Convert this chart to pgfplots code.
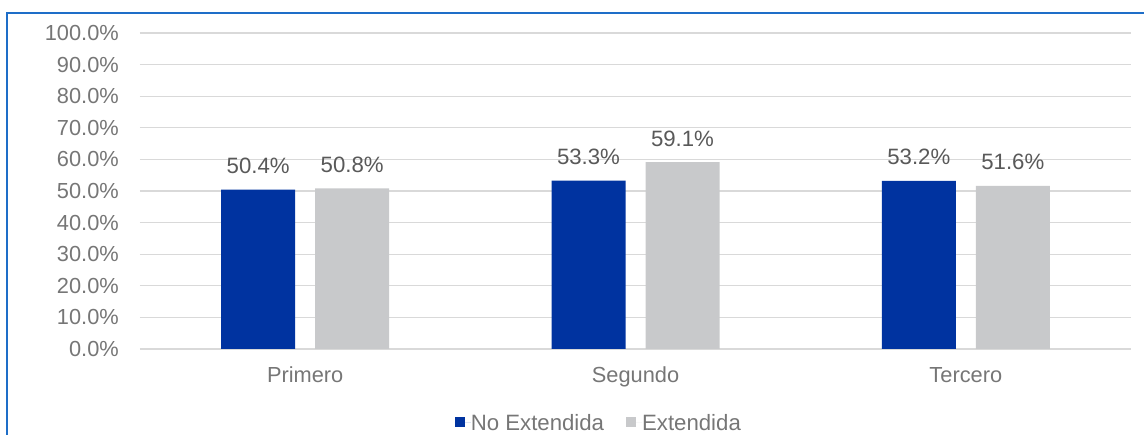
\documentclass[border=0pt]{standalone}
\usepackage{pgfplots}
\pgfplotsset{compat=1.18}
\usepackage{fontspec}
\setmainfont{Liberation Sans}
\definecolor{barblue}{RGB}{0,51,160}
\definecolor{bargray}{RGB}{200,201,203}
\definecolor{gridgray}{RGB}{217,217,217}
\definecolor{axtext}{RGB}{118,118,118}
\definecolor{valtext}{RGB}{89,89,89}
\definecolor{frameblue}{RGB}{30,110,200}
\begin{document}
\begin{tikzpicture}
\path[use as bounding box] (0pt,0pt) rectangle (1144pt,435pt);
\begin{axis}[
  at={(140pt,86pt)}, anchor=south west,
  scale only axis, width=991pt, height=316pt,
  xmin=-0.5, xmax=2.5, ymin=0, ymax=100,
  ybar=20pt, bar width=74pt,
  xtick={0,1,2}, xticklabels={Primero,Segundo,Tercero},
  ytick={0,10,...,100},
  /pgf/number format/assume math mode=true,
  yticklabel={\pgfmathprintnumber[fixed,fixed zerofill,precision=1]{\tick}\%},
  axis line style={draw=none},
  tick style={draw=none},
  major tick length=0pt,
  ymajorgrids, grid style={color=gridgray, line width=1.3pt},
  ticklabel style={font=\fontsize{21.8}{24}\selectfont, text=axtext},
  yticklabel style={anchor=east, inner sep=0pt, xshift=-21pt},
  xticklabel style={anchor=base, inner sep=0pt, yshift=-34pt},
  nodes near coords={\pgfmathprintnumber[fixed,fixed zerofill,precision=1]{\pgfplotspointmeta}\%},
  nodes near coords style={font=\fontsize{22.2}{24}\selectfont, text=valtext, anchor=base, inner sep=0pt, yshift=16pt},
  point meta=y,
  legend style={at={(axis description cs:0.462,-0.234)}, anchor=center, draw=none, fill=none,
    font=\fontsize{22.2}{24}\selectfont, text=axtext, inner sep=0pt,
    /tikz/every even column/.append style={column sep=22pt},
    nodes={inner sep=0pt, inner xsep=0pt}},
  legend columns=2,
  legend image code/.code={\fill[#1] (0pt,-4.5pt) rectangle (10pt,5.5pt); \path (0pt,0pt) -- (16pt,0pt);},
]
\addplot[fill=barblue, draw=none] coordinates {(0,50.4) (1,53.3) (2,53.2)};
\addplot[fill=bargray, draw=none] coordinates {(0,50.8) (1,59.1) (2,51.6)};
\legend{No Extendida, Extendida}
\end{axis}
\draw[frameblue, line width=1.5pt] (7pt,0pt) -- (7pt,422pt) -- (1144pt,422pt);
\end{tikzpicture}
\end{document}
